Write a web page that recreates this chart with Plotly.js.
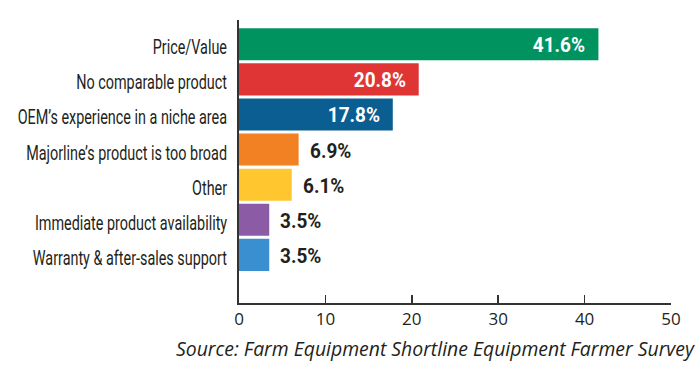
<!DOCTYPE html>
<html><head><meta charset="utf-8">
<script src="https://cdn.plot.ly/plotly-3.0.1.min.js"></script>
<style>html,body{margin:0;padding:0;background:#fff}#chart{width:700px;height:374px}</style>
</head><body><div id="chart"></div>
<script>
// top-to-bottom order as shown
const categories = ["Price/Value","No comparable product","OEM\u2019s experience in a niche area","Majorline\u2019s product is too broad","Other","Immediate product availability","Warranty & after-sales support"];
const values = [41.6, 20.8, 17.8, 6.9, 6.1, 3.5, 3.5];
const labels = ["41.6%","20.8%","17.8%","6.9%","6.1%","3.5%","3.5%"];
const colors = ["#00935f","#e03535","#0a5e92","#f28123","#ffc62f","#8c5ba6","#3a8fd1"];
const insideLabel = [true,true,true,false,false,false,false];
const xTicks = [0,10,20,30,40,50];
const sourceText = "Source: Farm Equipment Shortline Equipment Farmer Survey";

const condFont = "Roboto, sans-serif";
const cats = categories.slice().reverse();
const vals = values.slice().reverse();
const cols = colors.slice().reverse();

const annotations = categories.map((c,i)=>({
  x: values[i], y: c, xref:'x', yref:'y', text: labels[i], showarrow:false,
  xanchor: insideLabel[i] ? 'right' : 'left',
  xshift: insideLabel[i] ? -11 : 9, yshift:-1,
  font:{family:condFont, size:20, color: insideLabel[i] ? '#ffffff' : '#231f20', weight:700}
}));
annotations.push({
  xref:'paper', yref:'paper', x:1.06, y:-0.16, xanchor:'right', yanchor:'middle',
  text:'<i>'+sourceText+'</i>', showarrow:false,
  font:{family:'Open Sans, sans-serif', size:19.4, color:'#231f20'}
});

// horizontal squeeze to imitate a condensed face
function squeeze(t, sx, side, dy){
  const bb = t.getBBox();
  const p = side === 'right' ? bb.x + bb.width : bb.x;
  const prev = t.getAttribute('transform') || '';
  t.setAttribute('transform', prev + ` translate(${p},${dy}) scale(${sx},1) translate(${-p},0)`);
}

Plotly.newPlot('chart', [{
  type:'bar', orientation:'h', x: vals, y: cats,
  marker:{color: cols, line:{width:0}}, hoverinfo:'none'
}], {
  width:700, height:374,
  margin:{l:239, r:29, t:20, b:71},
  paper_bgcolor:'#fff', plot_bgcolor:'#fff',
  bargap:0.086, showlegend:false,
  xaxis:{range:[0,50], tickvals:xTicks, ticktext:xTicks.map(String), ticks:'inside', ticklen:8, tickwidth:1.5, tickcolor:'#333',
    showline:true, linecolor:'#333', linewidth:2, showgrid:false, zeroline:false,
    tickfont:{family:'Open Sans, sans-serif', size:17, color:'#231f20'}},
  yaxis:{type:'category', categoryorder:'array', categoryarray:cats, range:[-1.37,6.69],
    showline:true, linecolor:'#333', linewidth:2, ticks:'', showgrid:false, zeroline:false,
    ticklabelstandoff:6,
    tickfont:{family:condFont, size:20, color:'#231f20', weight:400}},
  annotations: annotations
}, {staticPlot:true, displayModeBar:false}).then(gd=>{
  gd.querySelectorAll('.ytick text').forEach(t=>squeeze(t, 0.72, 'right', 3));
  const ann = gd.querySelectorAll('.annotation-text');
  ann.forEach((t,i)=>{ if(i<categories.length) squeeze(t, 0.95, insideLabel[i] ? 'right' : 'left', 0); });
});
</script></body></html>
